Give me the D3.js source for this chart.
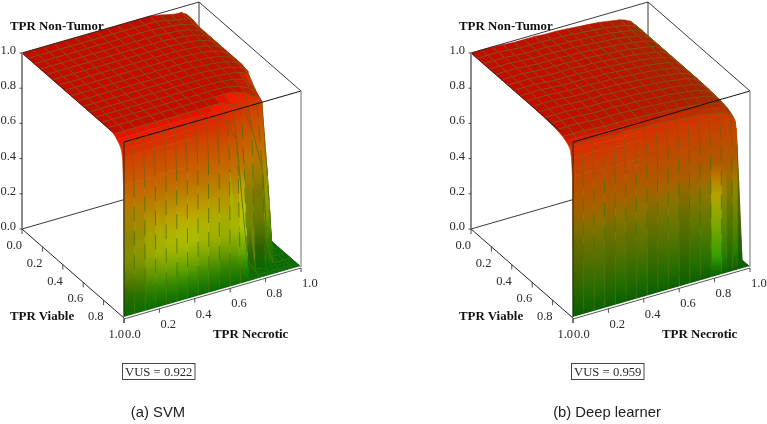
<!DOCTYPE html>
<html><head><meta charset="utf-8">
<style>html,body{margin:0;padding:0;background:#fff}svg{display:block;filter:blur(.3px)}</style>
<script src="https://cdn.jsdelivr.net/npm/d3@7"></script></head><body>
<script>
// ---- chart values ----
const necroticGrid=[0,.06,.12,.18,.24,.30,.36,.42,.48,.54,.60,.66,.72,.78,.84,.87,.90,.93,.96,.98,1];
const viableGrid=[0,.06,.12,.18,.24,.30,.36,.42,.48,.54,.60,.66,.72,.78,.84,.90,.93,.96,.975,.985,.995,1];
const svmSurface=[
[1,1,1,1,1,1,1,1,1,1,1,1,1,.99,.975,.97,.97,.95,0,0,0],
[1,1,1,1,1,1,1,1,1,1,1,1,1,.99,.975,.97,.97,.95,0,0,0],
[1,1,1,1,1,1,1,1,1,1,1,1,.995,.99,.98,.97,.96,.94,0,0,0],
[1,1,1,1,1,1,1,1,1,1,1,1,.995,.99,.98,.97,.96,.94,0,0,0],
[1,1,1,1,1,1,1,1,1,1,1,1,.995,.99,.98,.97,.96,.94,0,0,0],
[1,1,1,1,1,1,1,1,1,1,1,1,.995,.99,.98,.97,.96,.94,0,0,0],
[1,1,1,1,1,1,1,1,1,1,1,1,.995,.99,.98,.97,.96,.94,0,0,0],
[1,1,1,1,1,1,1,1,1,1,1,1,.995,.99,.98,.97,.96,.94,0,0,0],
[1,1,1,1,1,1,1,1,1,1,1,1,.995,.99,.98,.97,.96,.94,0,0,0],
[1,1,1,1,1,1,1,1,1,1,1,1,.995,.99,.98,.97,.96,.94,0,0,0],
[1,1,1,1,1,1,1,1,1,1,1,1,.995,.99,.98,.97,.96,.93,0,0,0],
[1,1,1,1,1,1,1,1,1,1,1,1,.995,.99,.98,.97,.95,.7,0,0,0],
[1,1,1,1,1,1,1,1,1,1,1,1,.995,.99,.97,.94,.9,.25,0,0,0],
[1,1,1,1,1,1,1,1,1,1,1,1,.995,.98,.95,.93,.72,.05,0,0,0],
[1,1,1,1,1,1,1,1,1,1,1,1,.995,.97,.93,.9,.5,0,0,0,0],
[.995,.995,.995,.995,.995,.995,.995,.995,.995,.995,.995,.97,.95,.8,.55,.1,0,0,0,0,0],
[.98,.98,.98,.98,.98,.98,.98,.98,.98,.98,.97,.92,.6,.02,0,0,0,0,0,0,0],
[.96,.96,.96,.96,.96,.96,.96,.96,.96,.96,.93,.8,.1,0,0,0,0,0,0,0,0],
[.94,.94,.94,.94,.94,.94,.94,.94,.94,.94,.9,.6,0,0,0,0,0,0,0,0,0],
[.9,.9,.9,.9,.9,.9,.9,.9,.9,.9,.85,.3,0,0,0,0,0,0,0,0,0],
[.75,.75,.75,.75,.75,.75,.75,.75,.75,.75,.65,.1,0,0,0,0,0,0,0,0,0],
[0,0,0,0,0,0,0,0,0,0,0,0,0,0,0,0,0,0,0,0,0]];
const deepSurface=[
[1,1,1,.995,.99,.99,.99,.985,.985,.98,.975,.97,.965,.955,.945,.935,.92,.89,.4,0,0],
[1,1,1,.995,.99,.99,.99,.985,.985,.98,.975,.97,.965,.955,.945,.935,.92,.89,.4,0,0],
[1,1,1,.995,.99,.99,.99,.985,.985,.98,.975,.97,.965,.955,.945,.935,.92,.89,.4,0,0],
[1,1,1,.995,.99,.99,.99,.985,.985,.98,.975,.97,.965,.955,.945,.935,.92,.89,.4,0,0],
[1,1,1,.995,.99,.99,.99,.985,.985,.98,.975,.97,.965,.955,.945,.935,.92,.89,.4,0,0],
[1,1,1,.995,.99,.99,.99,.985,.985,.98,.975,.97,.965,.955,.945,.935,.92,.89,.4,0,0],
[1,1,1,.995,.99,.99,.99,.985,.985,.98,.975,.97,.965,.955,.945,.935,.92,.89,.4,0,0],
[1,1,1,.995,.99,.99,.99,.985,.985,.98,.975,.97,.965,.955,.945,.935,.92,.89,.4,0,0],
[1,1,1,.995,.99,.99,.99,.985,.985,.98,.975,.97,.965,.955,.945,.935,.92,.89,.4,0,0],
[1,1,1,.995,.99,.99,.99,.985,.985,.98,.975,.97,.965,.955,.945,.935,.92,.89,.4,0,0],
[1,1,1,.995,.99,.99,.99,.985,.985,.98,.975,.97,.965,.955,.945,.935,.92,.89,.4,0,0],
[.999,.999,.999,.994,.989,.989,.989,.984,.984,.979,.974,.969,.964,.954,.944,.934,.919,.889,.4,0,0],
[.997,.997,.997,.992,.987,.987,.987,.982,.982,.977,.972,.967,.962,.952,.942,.932,.917,.887,.4,.02,0],
[.994,.994,.994,.989,.984,.984,.984,.979,.979,.974,.969,.964,.959,.949,.939,.929,.914,.885,.4,.05,0],
[.99,.99,.99,.985,.98,.98,.98,.975,.975,.97,.965,.96,.955,.945,.936,.926,.911,.881,.35,.05,0],
[.98,.98,.98,.975,.97,.97,.97,.965,.965,.96,.956,.951,.946,.936,.926,.916,.902,.872,.25,0,0],
[.97,.97,.97,.965,.96,.96,.96,.955,.955,.951,.946,.941,.936,.926,.917,.907,.892,.863,.1,0,0],
[.955,.955,.955,.95,.945,.945,.945,.941,.941,.936,.931,.926,.922,.912,.902,.893,.879,.85,.03,0,0],
[.94,.94,.94,.935,.931,.931,.931,.926,.926,.921,.917,.912,.907,.898,.888,.879,.865,.837,0,0,0],
[.9,.9,.9,.896,.891,.891,.891,.887,.887,.882,.878,.873,.869,.86,.851,.842,.828,.801,0,0,0],
[.8,.8,.8,.796,.792,.792,.792,.788,.788,.784,.78,.776,.772,.764,.756,.748,.736,.712,0,0,0],
[0,0,0,0,0,0,0,0,0,0,0,0,0,0,0,0,0,0,0,0,0]];
// column-wise shading of the walls (the vertical streaks seen in each panel)
const svmStreak=[-.2,-.15,-.05,0,.03,.05,.05,.03,0,-.02,.02,.1,-.25,-.3,-.15,-.12,-.1,-.1,-.1,0,0];
const deepStreak=[-.05,0,.02,-.02,.03,0,.04,-.02,.03,.05,-.03,.05,.08,.5,.2,.05,.2,-.1,0,0,0];
const tickValues=[0,.2,.4,.6,.8,1];
const tickLabels=["0.0","0.2","0.4","0.6","0.8","1.0"];
const axisTitles=["TPR Non-Tumor","TPR Viable","TPR Necrotic"];
const vusLabels=["VUS = 0.922","VUS = 0.959"];
const captions=["(a) SVM","(b) Deep learner"];

// ---- styling ----
const colorStops=[0,.1,.2,.3,.4,.5,.6,.73,.85,.93,1];
const svmColors=["#0a6a00","#2a8200","#6a9c00","#9cb000","#aab000","#b89a00","#b88000","#c86000","#cc4a00","#d83000","#ff1000"];
const deepColors=["#0a5e00","#1f6a00","#3a6c00","#556f00","#6a7000","#887000","#a86000","#b85000","#c84000","#d83000","#ff1000"];
const W=767,H=424,panelDX=449;
const svg=d3.select("body").append("svg").attr("width",W).attr("height",H);
const defs=svg.append("defs");
// oblique projection of the box
const nx=d3.scaleLinear([0,1],[0,177]), ny=d3.scaleLinear([0,1],[0,-51]);
const vx=d3.scaleLinear([0,1],[0,102]), vy=d3.scaleLinear([0,1],[0,89]);
const zy=d3.scaleLinear([0,1],[0,-176]);
const X0=22,Y0=229;
const P=(n,v,z)=>[X0+nx(n)+vx(v),Y0+ny(n)+vy(v)+zy(z)];
const pathOf=pts=>"M"+pts.map(p=>p[0].toFixed(2)+","+p[1].toFixed(2)).join("L");
const isMesh=x=>Math.abs(x/.06-Math.round(x/.06))<1e-6;
let gradId=0;

function buildSurface(rows,colors,streak,panel){
  const col=d3.scaleLinear().domain(colorStops).range(colors).clamp(true);
  const items=[];
  for(let r=0;r<viableGrid.length-1;r++){
    for(let c=necroticGrid.length-2;c>=0;c--){
      const n0=necroticGrid[c],n1=necroticGrid[c+1],v0=viableGrid[r],v1=viableGrid[r+1];
      const a=rows[r][c],b=rows[r][c+1],d=rows[r+1][c],e=rows[r+1][c+1];
      const gv=Math.max(Math.abs(a-d),Math.abs(b-e))/(v1-v0);
      const gn=Math.max(Math.abs(a-b),Math.abs(d-e))/(n1-n0);
      const g=Math.max(gv,gn*.35);
      const lit=.76+.24*Math.min(1,Math.max(0,(g-.14)/.6));
      const shade=zc=>{
        const w=Math.max(0,Math.min(1,zc/.12,(.64-zc)/.2));
        const k=(zc>.6?lit:1)*(1+streak[c]*w);
        const rgb=d3.rgb(col(zc));
        return d3.rgb(Math.min(255,rgb.r*k),Math.min(255,rgb.g*k),Math.min(255,rgb.b*k)).formatHex();
      };
      const quad=[P(n0,v0,a),P(n1,v0,b),P(n1,v1,e),P(n0,v1,d)];
      const zMax=Math.max(a,b,d,e), zMin=Math.min(a,b,d,e);
      let paint;
      if(zMax-zMin<.02){ paint=shade((a+b+d+e)/4); }
      else{
        // a linear gradient running from the cell's high side to its low side
        const alongV=Math.abs((a+b)-(d+e))>=Math.abs((a+d)-(b+e));
        let hi,lo,zh,zl;
        if(alongV){
          const first=(a+b)>=(d+e);
          const m0=[(quad[0][0]+quad[1][0])/2,(quad[0][1]+quad[1][1])/2], m1=[(quad[3][0]+quad[2][0])/2,(quad[3][1]+quad[2][1])/2];
          hi=first?m0:m1; lo=first?m1:m0; zh=first?(a+b)/2:(d+e)/2; zl=first?(d+e)/2:(a+b)/2;
        }else{
          const first=(a+d)>=(b+e);
          const m0=[(quad[0][0]+quad[3][0])/2,(quad[0][1]+quad[3][1])/2], m1=[(quad[1][0]+quad[2][0])/2,(quad[1][1]+quad[2][1])/2];
          hi=first?m0:m1; lo=first?m1:m0; zh=first?(a+d)/2:(b+e)/2; zl=first?(b+e)/2:(a+d)/2;
        }
        const id="g"+panel+"_"+(gradId++);
        const lg=defs.append("linearGradient").attr("id",id).attr("gradientUnits","userSpaceOnUse")
          .attr("x1",hi[0]).attr("y1",hi[1]).attr("x2",lo[0]).attr("y2",lo[1]);
        const steps=Math.max(2,Math.min(14,Math.ceil((zh-zl)*16)));
        d3.range(steps+1).forEach(i=>{
          lg.append("stop").attr("offset",i/steps).attr("stop-color",shade(zh+(zl-zh)*i/steps));
        });
        paint=`url(#${id})`;
      }
      items.push({d:pathOf(quad)+"Z",fill:paint,stroke:paint,sw:.6});
      // mesh edges on the far side of the cell
      const meshCol=z=>z>=.7?"#7a5a10":(z>.03?"#4a7400":"#2c7c14");
      if(isMesh(v0)&&r>0){
        const zm=(a+b)/2;
        items.push({d:pathOf([P(n0,v0,a),P(n1,v0,b)]),fill:"none",stroke:meshCol(zm),sw:1,op:zm>.03?.85:.5});
      }
      if(isMesh(n1)&&c+2<necroticGrid.length){
        const zm=(b+e)/2, len=Math.abs(b-e)*176;
        const it={d:pathOf([P(n1,v0,b),P(n1,v1,e)]),fill:"none",stroke:len>30?"#4a7000":meshCol(zm),sw:.9,op:zm>.03?.85:.5};
        if(len>30){it.dash="15 9";it.off=(c*7)%24;}
        items.push(it);
      }
    }
  }
  return items;
}

function line(g,a,b,stroke,w){
  g.append("path").attr("d",pathOf([a,b])).attr("fill","none").attr("stroke",stroke).attr("stroke-width",w);
}
function drawPanel(idx,rows,colors,streak){
  const g=svg.append("g").attr("transform",`translate(${idx*panelDX},0)`);
  const dark="#222", grey="#8a8a8a";
  // back of the box
  line(g,P(1,0,1),P(1,0,0),dark,.9);
  line(g,P(0,0,0),P(1,0,0),dark,.9);
  line(g,P(1,0,0),P(1,1,0),dark,.9);
  // surface
  g.append("g").selectAll("path").data(buildSurface(rows,colors,streak,idx)).join("path")
    .attr("d",d=>d.d).attr("fill",d=>d.fill).attr("stroke",d=>d.stroke)
    .attr("stroke-width",d=>d.sw).attr("stroke-opacity",d=>d.op||1)
    .attr("stroke-dasharray",d=>d.dash||null).attr("stroke-dashoffset",d=>d.off||null);
  // front of the box
  line(g,P(0,0,1),P(1,0,1),dark,.9);
  line(g,P(1,0,1),P(1,1,1),dark,.9);
  line(g,P(1,1,1),P(0,1,1),"#111",1);
  line(g,P(0,1,1),P(0,1,0),"#222",1);
  line(g,P(0,0,1),P(0,.87,1),dark,.9);
  line(g,P(0,0,0),P(0,1,0),dark,1);
  // white gap and base line along the front edge
  const fa=P(0,1,0),fb=P(1,1,0);
  line(g,fa,fb,"#fff",2);
  line(g,[fa[0],fa[1]+1],[fb[0],fb[1]+1],"#444",.9);
  // grey uprights
  line(g,P(0,0,1),P(0,0,0),grey,2);
  line(g,P(1,1,1),P(1,1,0),"#999",1.4);
  const txt=(x,y,s,anchor,size)=>g.append("text").attr("x",x).attr("y",y).text(s).attr("text-anchor",anchor||"start")
    .attr("font-family","'Liberation Serif',serif").attr("font-size",size||12.5).attr("fill","#2a2a2a");
  tickValues.forEach((t,i)=>{
    const pz=P(0,0,t); line(g,[pz[0]-2.5,pz[1]],pz,dark,.8);
    txt(pz[0]-6,pz[1]+1,tickLabels[i],"end");
    const pv=P(0,t,0); line(g,pv,[pv[0],pv[1]+5],dark,.8);
    txt(pv[0],pv[1]+20,tickLabels[i],"end");
    const pn=P(t,1,0); line(g,[pn[0],pn[1]+1],[pn[0],pn[1]+5],dark,.8);
    txt(pn[0]+1,pn[1]+20,tickLabels[i],"start");
  });
  const title=(x,y,s)=>txt(x,y,s,"start",12.9).attr("font-weight","bold").attr("fill","#111");
  title(10,30,axisTitles[0]); title(10,320,axisTitles[1]); title(213,338,axisTitles[2]);
  // VUS box
  g.append("rect").attr("x",122.5).attr("y",363.5).attr("width",72.5).attr("height",16)
    .attr("fill","#fff").attr("stroke","#333").attr("stroke-width",.9);
  txt(158.75,375.5,vusLabels[idx],"middle",12.7);
  g.append("text").attr("x",158).attr("y",417).attr("text-anchor","middle")
    .attr("font-family","'Liberation Sans',Arial,sans-serif").attr("font-size",14.8).attr("fill","#222").text(captions[idx]);
}
drawPanel(0,svmSurface,svmColors,svmStreak);
drawPanel(1,deepSurface,deepColors,deepStreak);
</script></body></html>
